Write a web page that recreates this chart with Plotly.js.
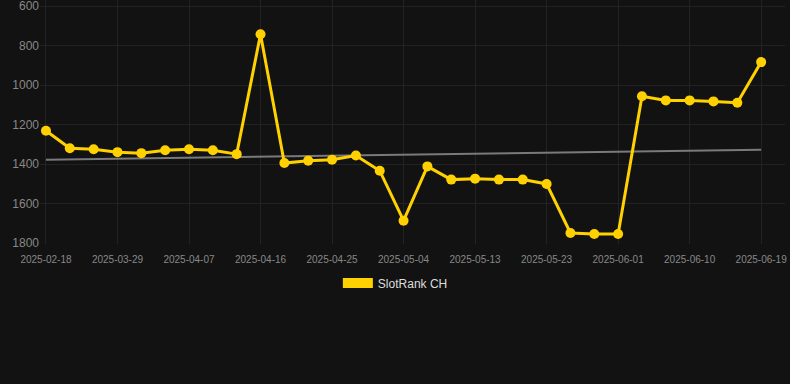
<!DOCTYPE html>
<html><head><meta charset="utf-8">
<script src="https://cdn.plot.ly/plotly-3.0.1.min.js"></script>
<style>html,body{margin:0;padding:0;background:#121212;}#c{width:790px;height:384px;}</style>
</head><body><div id="c"></div>
<script>
var dates = ["2025-02-18","2025-03-23","2025-03-26","2025-03-29","2025-04-01","2025-04-04","2025-04-07","2025-04-10","2025-04-13","2025-04-16","2025-04-19","2025-04-22","2025-04-25","2025-04-28","2025-05-01","2025-05-04","2025-05-07","2025-05-10","2025-05-13","2025-05-16","2025-05-20","2025-05-23","2025-05-26","2025-05-29","2025-06-01","2025-06-04","2025-06-07","2025-06-10","2025-06-13","2025-06-16","2025-06-19"];
var ranks = [1232,1320,1325,1340,1345,1330,1325,1330,1350,743,1395,1383,1378,1357,1434,1687,1412,1479,1474,1479,1479,1501,1749,1754,1754,1057,1078,1078,1083,1090,884];
var trendX = ["2025-02-18","2025-06-19"];
var trendY = [1378,1328];
var tickDates = ["2025-02-18","2025-03-29","2025-04-07","2025-04-16","2025-04-25","2025-05-04","2025-05-13","2025-05-23","2025-06-01","2025-06-10","2025-06-19"];
var yTicks = [600,800,1000,1200,1400,1600,1800];
var seriesName = "SlotRank CH";
var gold = "#FFD100";

var traces = [
  {x: trendX, y: trendY, type: "scatter", mode: "lines", line: {color: "#7a7a7a", width: 2}, showlegend: false, hoverinfo: "skip"},
  {x: dates, y: ranks, type: "scatter", mode: "lines+markers", line: {color: gold, width: 3}, marker: {color: gold, size: 10}, showlegend: false, name: seriesName},
  {x: [dates[0]], y: [null], type: "scatter", mode: "lines", line: {color: gold, width: 12}, name: seriesName, showlegend: true}
];
var layout = {
  width: 790, height: 384,
  paper_bgcolor: "#121212", plot_bgcolor: "#121212",
  margin: {l: 40, r: 5, t: 0, b: 140},
  font: {family: "Liberation Sans, Arial, sans-serif", color: "#888"},
  xaxis: {type: "category", categoryorder: "array", categoryarray: dates, range: [-0.25, 31.0],
          tickmode: "array", tickvals: tickDates, ticktext: tickDates,
          tickfont: {size: 10, color: "#888"}, gridcolor: "#222", showline: false, zeroline: false,
          ticks: "outside", ticklen: 6, tickcolor: "rgba(0,0,0,0)"},
  yaxis: {range: [1805, 569.6], tickvals: yTicks, ticklabeloverflow: "allow",
          tickfont: {size: 12, color: "#888"}, gridcolor: "#222", zeroline: false, showline: false},
  legend: {orientation: "h", x: 0.477, xanchor: "center", y: -0.1, yanchor: "top", font: {size: 12, color: "#ddd"}},
  showlegend: true
};
Plotly.newPlot("c", traces, layout, {displayModeBar: false, staticPlot: true});
</script></body></html>
